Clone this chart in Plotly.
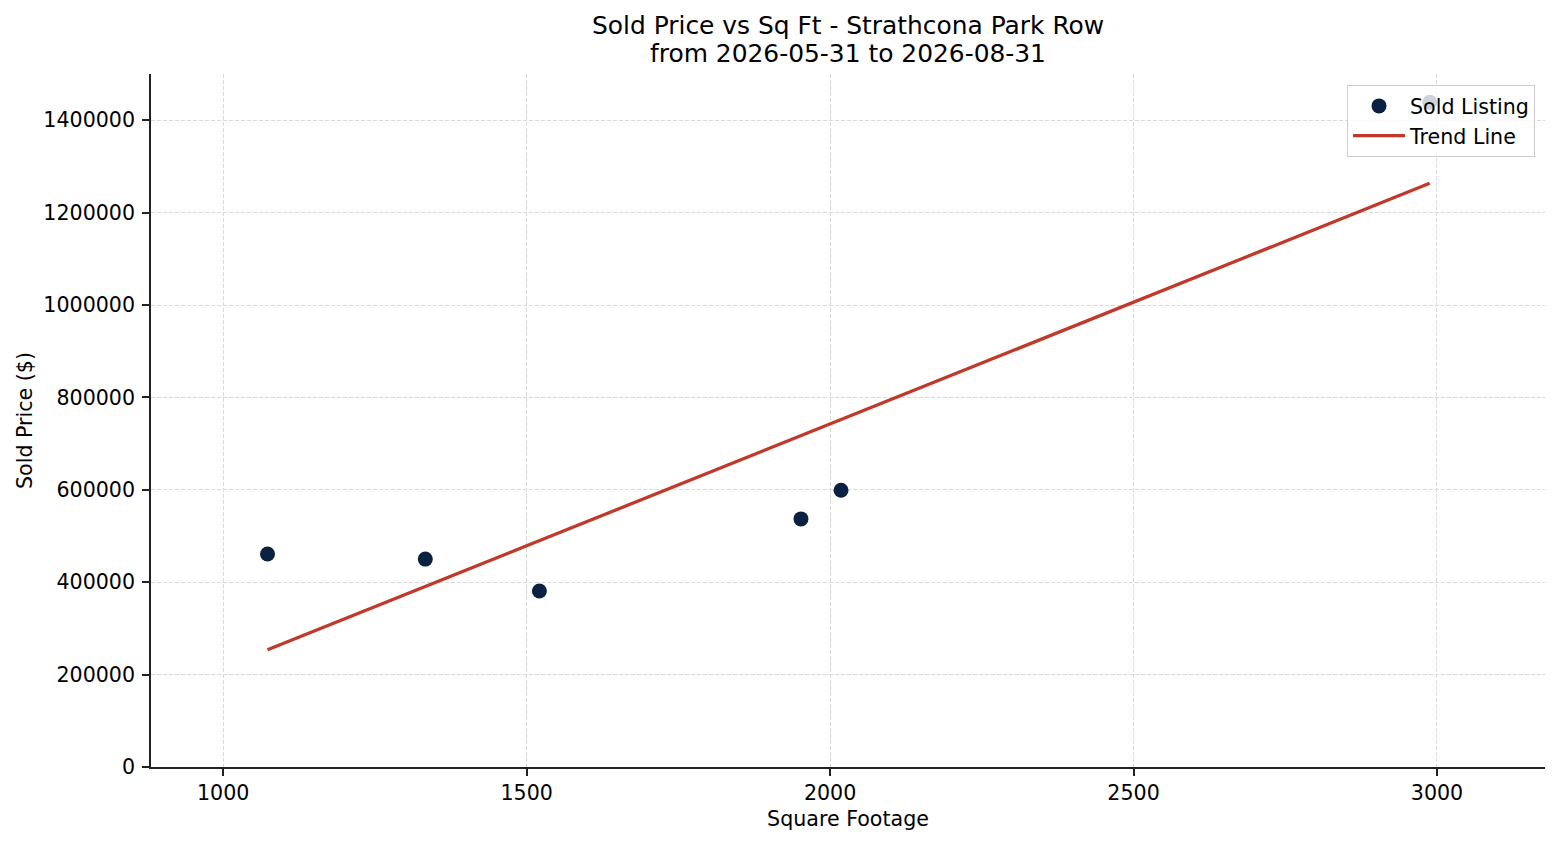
import numpy as np
import plotly.graph_objects as go

# Data
sqft = [1073, 1333, 1521, 1952, 2018, 2988]
sold_price = [461000, 450000, 381000, 537000, 599000, 1439000]

title_line1 = "Sold Price vs Sq Ft - Strathcona Park Row"
title_line2 = "from 2026-05-31 to 2026-08-31"
x_ticks = [1000, 1500, 2000, 2500, 3000]
y_ticks = [0, 200000, 400000, 600000, 800000, 1000000, 1200000, 1400000]

# Trend line: least squares fit of the listings
slope, intercept = np.polyfit(sqft, sold_price, 1)
trend_x = [min(sqft), max(sqft)]
trend_y = [slope * v + intercept for v in trend_x]

FONT = "DejaVu Sans"
FS = 20.6
TFS = 24.9
# page body has an 8px margin, so the figure is drawn 8px smaller and shifted
W, H = 1552, 837
L, R, T, B = 143, 15, 66, 78
pw, ph = W - L - R, H - T - B

fig = go.Figure()
fig.add_trace(go.Scatter(
    x=sqft, y=sold_price, mode="markers", name="Sold Listing",
    marker=dict(color="#0b2142", size=15, line=dict(width=0)),
))
fig.add_trace(go.Scatter(
    x=trend_x, y=trend_y, mode="lines", name="Trend Line",
    line=dict(color="#c0392b", width=3.3),
))

axis_common = dict(
    showline=True, linecolor="#222222", linewidth=1.6, mirror=False,
    ticks="outside", ticklen=7, tickwidth=1.6, tickcolor="#222222",
    tickfont=dict(family=FONT, size=FS, color="#000000"),
    showgrid=True, gridcolor="#d9d9d9", gridwidth=1, griddash="4px,2px",
    zeroline=False,
)

fig.update_layout(
    width=W, height=H,
    margin=dict(l=L, r=R, t=T, b=B, pad=0),
    paper_bgcolor="white", plot_bgcolor="white",
    font=dict(family=FONT, size=FS, color="#000000"),
    showlegend=True,
    legend=dict(
        x=1 - 10 / pw, y=1 - 11 / ph, xanchor="right", yanchor="top",
        bgcolor="rgba(255,255,255,0.8)", bordercolor="#cccccc", borderwidth=1,
        font=dict(family=FONT, size=FS, color="#000000"),
        tracegroupgap=0, itemwidth=52,
    ),
    xaxis=dict(
        range=[881, 3178], tickvals=x_ticks, ticklabelstandoff=-1,
        title=dict(text="Square Footage", font=dict(family=FONT, size=FS), standoff=8),
        **axis_common,
    ),
    yaxis=dict(
        range=[0, 1500000], tickvals=y_ticks, tickformat="d", ticklabelstandoff=3,
        title=dict(text="Sold Price ($)", font=dict(family=FONT, size=FS), standoff=5),
        **axis_common,
    ),
    annotations=[
        dict(text=title_line1, xref="paper", yref="paper", x=0.5, y=1 + (T + 8 - 26) / ph,
             xanchor="center", yanchor="middle", showarrow=False,
             font=dict(family=FONT, size=TFS, color="#000000")),
        dict(text=title_line2, xref="paper", yref="paper", x=0.5, y=1 + (T + 8 - 54) / ph,
             xanchor="center", yanchor="middle", showarrow=False,
             font=dict(family=FONT, size=TFS, color="#000000")),
    ],
)

fig.write_html("out.html")
